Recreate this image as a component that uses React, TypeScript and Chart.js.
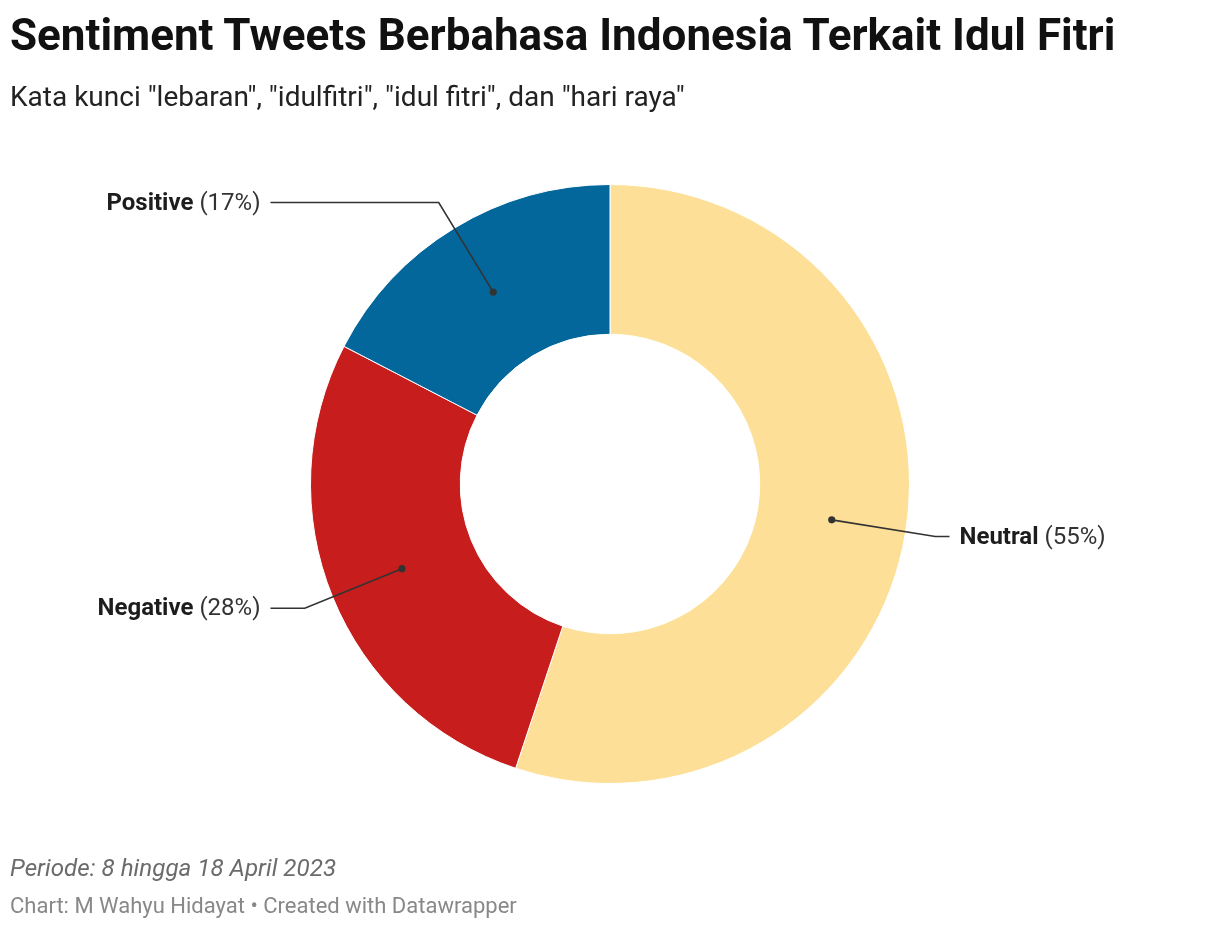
import React, { useEffect, useRef } from "react";
import { Chart, registerables } from "chart.js";

Chart.register(...registerables);

const categories = ["Neutral", "Negative", "Positive"];
const values = [55.1, 27.5, 17.4];
const colors = ["#fddf97", "#c71e1d", "#04679c"];

const FONT = "Roboto, 'Noto Sans', sans-serif";

const leaderPlugin = {
  id: "leaders",
  afterDatasetsDraw(chart: any) {
    const ctx = chart.ctx;
    const meta = chart.getDatasetMeta(0);
    const total = values.reduce((a, b) => a + b, 0);
    meta.data.forEach((arc: any, i: number) => {
      const { x, y, startAngle, endAngle, innerRadius, outerRadius } = arc.getProps(
        ["x", "y", "startAngle", "endAngle", "innerRadius", "outerRadius"],
        true
      );
      const mid = (startAngle + endAngle) / 2;
      const dx = Math.cos(mid);
      const dy = Math.sin(mid);
      const rDot = (innerRadius + outerRadius) / 2;
      const px = x + dx * rDot;
      const py = y + dy * rDot;
      const ex = x + dx * (outerRadius + 30);
      const ey = y + dy * (outerRadius + 30);
      const right = dx >= 0;
      const sign = right ? 1 : -1;
      const hx = x + sign * (outerRadius + 40);
      const tx = x + sign * (outerRadius + 50);

      ctx.save();
      ctx.strokeStyle = "#333333";
      ctx.lineWidth = 1.6;
      ctx.beginPath();
      ctx.moveTo(px, py);
      ctx.lineTo(ex, ey);
      ctx.lineTo(hx, ey);
      ctx.stroke();
      ctx.fillStyle = "#333333";
      ctx.beginPath();
      ctx.arc(px, py, 3.6, 0, Math.PI * 2);
      ctx.fill();

      const name = categories[i];
      const pct = " (" + Math.round((values[i] / total) * 100) + "%)";
      const boldFont = "bold 24px " + FONT;
      const regFont = "24px " + FONT;
      ctx.font = boldFont;
      const wName = ctx.measureText(name).width;
      ctx.font = regFont;
      const wPct = ctx.measureText(pct).width;
      const start = right ? tx : tx - (wName + wPct);
      ctx.textBaseline = "middle";
      ctx.textAlign = "left";
      ctx.font = boldFont;
      ctx.fillStyle = "#1d1d1d";
      ctx.fillText(name, start, ey + 1);
      ctx.font = regFont;
      ctx.fillStyle = "#333333";
      ctx.fillText(pct, start + wName, ey + 1);
      ctx.restore();
    });
  },
};

function DonutChart() {
  const ref = useRef<HTMLCanvasElement | null>(null);
  useEffect(() => {
    if (!ref.current) return;
    const chart = new Chart(ref.current, {
      type: "doughnut",
      data: {
        labels: categories,
        datasets: [
          {
            data: values,
            backgroundColor: colors,
            borderColor: "#ffffff",
            borderWidth: 1,
            hoverOffset: 0,
          },
        ],
      },
      options: {
        responsive: false,
        animation: false,
        cutout: "50%",
        layout: { padding: { left: 310, right: 310, top: 183, bottom: 143 } },
        plugins: {
          legend: { display: false },
          tooltip: { enabled: false },
        },
      },
      plugins: [leaderPlugin],
    });
    return () => chart.destroy();
  }, []);
  return (
    <canvas
      ref={ref}
      width={1220}
      height={928}
      style={{ position: "absolute", left: 0, top: 0, width: 1220, height: 928 }}
    />
  );
}

export default function App() {
  const base: React.CSSProperties = {
    position: "absolute",
    left: 10,
    margin: 0,
    lineHeight: 1,
    fontFamily: FONT,
    whiteSpace: "nowrap",
  };
  return (
    <div
      style={{
        position: "fixed",
        left: 0,
        top: 0,
        width: 1220,
        height: 928,
        background: "#ffffff",
        overflow: "hidden",
      }}
    >
      <DonutChart />
      <div style={{ ...base, top: 13, fontSize: 44, fontWeight: 700, color: "#111111" }}>
        Sentiment Tweets Berbahasa Indonesia Terkait Idul Fitri
      </div>
      <div style={{ ...base, top: 82.5, fontSize: 28, color: "#222222" }}>
        Kata kunci "lebaran", "idulfitri", "idul fitri", dan "hari raya"
      </div>
      <div style={{ ...base, top: 856, fontSize: 24.2, fontStyle: "italic", color: "#6b6b6b" }}>
        Periode: 8 hingga 18 April 2023
      </div>
      <div style={{ ...base, top: 895, fontSize: 22, color: "#888888" }}>
        Chart: M Wahyu Hidayat • Created with Datawrapper
      </div>
    </div>
  );
}
